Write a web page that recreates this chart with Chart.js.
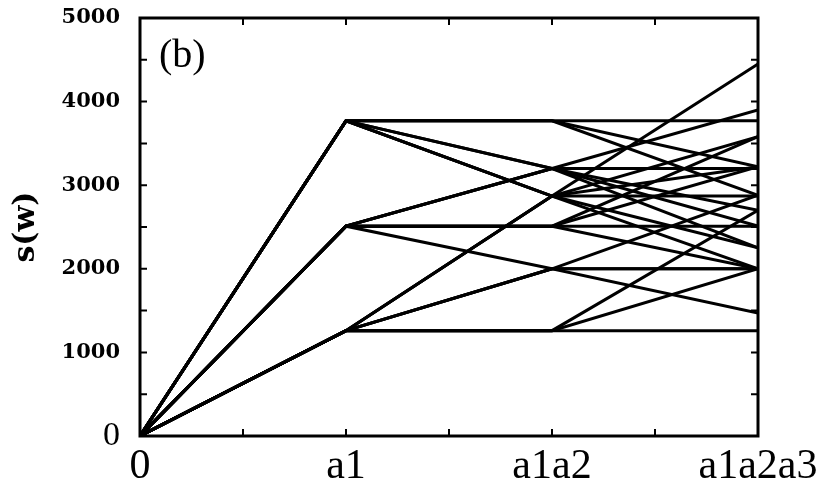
<!DOCTYPE html>
<html>
<head>
<meta charset="utf-8">
<script src="https://cdn.jsdelivr.net/npm/chart.js@4"></script>
<style>
  html, body { margin: 0; padding: 0; background: #fff; }
  #wrap { width: 830px; height: 497px; }
</style>
</head>
<body>
<div id="wrap"><canvas id="chart"></canvas></div>
<script>
// word stages along the x axis
const stages = ['0', 'a1', 'a1a2', 'a1a2a3'];

// one entry per path: s(w) after a1, a1a2, a1a2a3  (s(0) = 0)
const sA1     = [1260, 1260, 1260, 1260, 1260, 1260, 1260, 1260, 1260,
                 2510, 2510, 2510, 2510, 2510, 2510, 2510, 2510,
                 3770, 3770, 3770, 3770, 3770, 3770, 3770, 3770];
const sA1A2   = [1260, 1260, 1260, 2000, 2000, 2000, 2870, 2870, 2870,
                 2510, 2510, 2510, 2510, 2000, 3200, 3200, 3200,
                 3770, 3770, 3770, 3200, 3200, 2870, 2870, 2870];
const sA1A2A3 = [1260, 2000, 2700, 2000, 1470, 2880, 4450, 2870, 3580,
                 2510, 2000, 3580, 3220, 2000, 3200, 3900, 2250,
                 3770, 3220, 2880, 2700, 2510, 3220, 2000, 2250];

const yMax = 5000;
const yStep = 500;

const datasets = sA1.map((v, i) => ({
    data: [
        {x: 0, y: 0},
        {x: 1, y: v},
        {x: 2, y: sA1A2[i]},
        {x: 3, y: sA1A2A3[i]}
    ],
    borderColor: '#000',
    borderWidth: 3,
    pointRadius: 0,
    tension: 0,
    fill: false
}));

// box round the plot with inward ticks on all four sides, plus the panel label
const framePlugin = {
    id: 'frame',
    afterDraw(chart) {
        const ctx = chart.ctx;
        const a = chart.chartArea;
        const x = chart.scales.x;
        const y = chart.scales.y;
        ctx.save();
        ctx.strokeStyle = '#000';
        ctx.lineWidth = 2;
        ctx.beginPath();
        x.ticks.forEach(t => {
            const px = x.getPixelForValue(t.value);
            ctx.moveTo(px, a.bottom); ctx.lineTo(px, a.bottom - 7);
            ctx.moveTo(px, a.top);    ctx.lineTo(px, a.top + 7);
        });
        y.ticks.forEach(t => {
            const py = y.getPixelForValue(t.value);
            ctx.moveTo(a.left, py);  ctx.lineTo(a.left + 7, py);
            ctx.moveTo(a.right, py); ctx.lineTo(a.right - 7, py);
        });
        ctx.stroke();
        ctx.lineWidth = 3;
        ctx.strokeRect(a.left, a.top, a.right - a.left, a.bottom - a.top);

        ctx.fillStyle = '#000';
        ctx.font = '40px "Liberation Serif"';
        ctx.textBaseline = 'alphabetic';
        ctx.fillText('(b)', a.left + 19, a.top + 49);
        ctx.restore();
    }
};

const chart = new Chart(document.getElementById('chart'), {
    type: 'line',
    data: { datasets: datasets },
    options: {
        responsive: true,
        maintainAspectRatio: false,
        animation: false,
        layout: { padding: { left: 0, top: 18, right: 72, bottom: 0 } },
        plugins: {
            legend: { display: false },
            tooltip: { enabled: false }
        },
        scales: {
            x: {
                type: 'linear',
                min: 0,
                max: stages.length - 1,
                grid: { display: false, drawTicks: false },
                border: { display: false },
                afterFit: s => { s.height = 61; s.paddingLeft = 0; s.paddingRight = 0; },
                ticks: {
                    stepSize: 0.5,
                    autoSkip: false,
                    maxRotation: 0,
                    padding: 6,
                    color: '#000',
                    font: { family: 'Liberation Serif', size: 42 },
                    callback: v => Number.isInteger(v) ? stages[v] : ''
                }
            },
            y: {
                min: 0,
                max: yMax,
                grid: { display: false, drawTicks: false },
                border: { display: false },
                afterFit: s => { s.width = 140; s.paddingTop = 0; s.paddingBottom = 0; },
                title: {
                    display: true,
                    text: 's(w)',
                    color: '#000',
                    font: { family: 'DejaVu Serif', size: 30, weight: 'bold' },
                    padding: { top: 8, bottom: 0 }
                },
                ticks: {
                    stepSize: yStep,
                    autoSkip: false,
                    padding: 20,
                    color: '#000',
                    font: c => (c.tick && c.tick.value === 0)
                        ? { family: 'Liberation Serif', size: 34 }
                        : { family: 'DejaVu Serif', size: 21, weight: 'bold' },
                    callback: v => v % 1000 === 0 ? v : ''
                }
            }
        }
    },
    plugins: [framePlugin]
});
</script>
</body>
</html>
